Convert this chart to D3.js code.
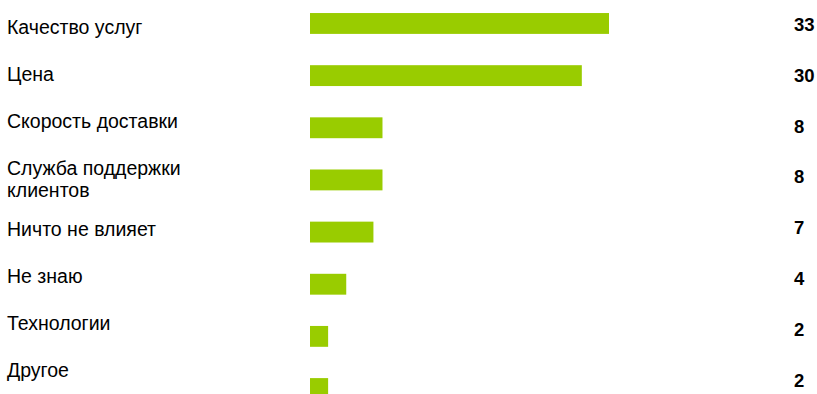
<!DOCTYPE html>
<html>
<head>
<meta charset="utf-8">
<script src="https://cdn.jsdelivr.net/npm/d3@7"></script>
<style>
  body { margin: 0; background: #fff; }
  svg { display: block; font-family: 'Liberation Sans', Arial, sans-serif; }
</style>
</head>
<body>
<div id="chart"></div>
<script>
const categories = [
  'Качество услуг',
  'Цена',
  'Скорость доставки',
  'Служба поддержки\nклиентов',
  'Ничто не влияет',
  'Не знаю',
  'Технологии',
  'Другое'
]
const values = [33, 30, 8, 8, 7, 4, 2, 2]

const width = 817
const height = 394

const data = categories.map((c, i) => ({ label: c, value: values[i] }))

const svg = d3
  .select('#chart')
  .append('svg')
  .attr('width', width)
  .attr('height', height)
  .attr('viewBox', [0, 0, width, height])

const x = d3.scaleLinear().domain([0, d3.max(values)]).range([310, 609])

// bars sit on a band scale
const y = d3
  .scaleBand()
  .domain(categories)
  .range([0, 412])
  .paddingInner(0.6)
  .paddingOuter(0.25)

// value column uses its own slightly tighter spacing
const yv = d3.scalePoint().domain(categories).range([24, 380.5])

svg
  .selectAll('rect.bar')
  .data(data)
  .enter()
  .append('rect')
  .attr('class', 'bar')
  .attr('x', x(0))
  .attr('y', d => y(d.label))
  .attr('width', d => x(d.value) - x(0))
  .attr('height', y.bandwidth())
  .style('fill', '#99cc00')

// labels flow down the left column, two-line labels take a bit more room
const lineH = 22
let base = 34
data.forEach(d => {
  d.lines = d.label.split('\n')
  d.base = base
  base += 47 + (d.lines.length - 1) * 13.5
})

const labels = svg
  .selectAll('text.label')
  .data(data)
  .enter()
  .append('text')
  .attr('class', 'label')
  .attr('x', 7)
  .attr('y', d => d.base)
  .style('font-size', '19.5px')
  .style('fill', '#000')

labels
  .selectAll('tspan')
  .data(d => d.lines)
  .enter()
  .append('tspan')
  .attr('x', 7)
  .attr('dy', (l, i) => (i === 0 ? 0 : lineH))
  .text(l => l)

svg
  .selectAll('text.value')
  .data(data)
  .enter()
  .append('text')
  .attr('class', 'value')
  .attr('x', 794)
  .attr('y', d => yv(d.label))
  .attr('dy', '0.36em')
  .style('font-size', '18.5px')
  .style('font-weight', 'bold')
  .style('fill', '#000')
  .text(d => d.value)
</script>
</body>
</html>
